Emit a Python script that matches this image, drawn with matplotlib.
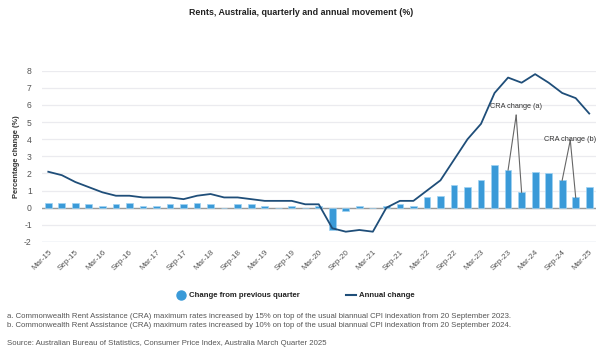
import matplotlib
matplotlib.use("Agg")
import matplotlib.pyplot as plt
import numpy as np
from matplotlib.lines import Line2D

plt.rcParams['font.family'] = ['Liberation Sans', 'DejaVu Sans']

quarters = ["Mar-15", "Jun-15", "Sep-15", "Dec-15", "Mar-16", "Jun-16", "Sep-16", "Dec-16",
            "Mar-17", "Jun-17", "Sep-17", "Dec-17", "Mar-18", "Jun-18", "Sep-18", "Dec-18",
            "Mar-19", "Jun-19", "Sep-19", "Dec-19", "Mar-20", "Jun-20", "Sep-20", "Dec-20",
            "Mar-21", "Jun-21", "Sep-21", "Dec-21", "Mar-22", "Jun-22", "Sep-22", "Dec-22",
            "Mar-23", "Jun-23", "Sep-23", "Dec-23", "Mar-24", "Jun-24", "Sep-24", "Dec-24",
            "Mar-25"]
quarterly_change = [0.3, 0.3, 0.3, 0.2, 0.1, 0.2, 0.3, 0.1,
                    0.1, 0.2, 0.2, 0.3, 0.2, 0.0, 0.2, 0.2,
                    0.1, 0.0, 0.1, 0.0, 0.1, -1.3, -0.2, 0.1,
                    0.0, 0.1, 0.2, 0.1, 0.6, 0.7, 1.3, 1.2,
                    1.6, 2.5, 2.2, 0.9, 2.1, 2.0, 1.6, 0.6,
                    1.2]
annual_change = [2.1, 1.9, 1.5, 1.2, 0.9, 0.7, 0.7, 0.6,
                 0.6, 0.6, 0.5, 0.7, 0.8, 0.6, 0.6, 0.5,
                 0.4, 0.4, 0.4, 0.2, 0.2, -1.2, -1.4, -1.3,
                 -1.4, 0.0, 0.4, 0.4, 1.0, 1.6, 2.8, 4.0,
                 4.9, 6.7, 7.6, 7.3, 7.8, 7.3, 6.7, 6.4,
                 5.5]
yticks = [-2, -1, 0, 1, 2, 3, 4, 5, 6, 7, 8]

title = "Rents, Australia, quarterly and annual movement (%)"
ylabel = "Percentage change (%)"
note_a = ("a. Commonwealth Rent Assistance (CRA) maximum rates increased by 15% on top of the usual "
          "biannual CPI indexation from 20 September 2023.")
note_b = ("b. Commonwealth Rent Assistance (CRA) maximum rates increased by 10% on top of the usual "
          "biannual CPI indexation from 20 September 2024.")
source = "Source: Australian Bureau of Statistics, Consumer Price Index, Australia March Quarter 2025"

bar_color = "#3a9ad8"
line_color = "#1f4e79"
text_gray = "#555555"

fig = plt.figure(figsize=(6.02, 3.59), dpi=100)
ax = fig.add_axes([0.069, 0.326, 0.921, 0.477])

x = np.arange(len(quarters))
ax.bar(x, quarterly_change, width=0.5, color=bar_color, edgecolor="#9fd3f3",
       linewidth=0.5, zorder=3, label="Change from previous quarter")
ax.axhline(0, color="#9a9a9a", lw=1.0, zorder=2)
ax.plot(x, annual_change, color=line_color, lw=1.3, zorder=4, label="Annual change")

ax.set_xlim(-0.5, len(quarters) - 0.5)
ax.set_ylim(-2, 8)
ax.set_yticks(yticks)
ax.set_yticklabels([str(v) for v in yticks], fontsize=6.2, color=text_gray)
ax.set_xticks(x[::2])
ax.set_xticklabels(quarters[::2], rotation=45, ha="right", rotation_mode="anchor",
                   fontsize=5.8, color=text_gray)
ax.tick_params(axis="y", length=0, pad=7)
ax.tick_params(axis="x", length=0, pad=5)
for s in ax.spines.values():
    s.set_visible(False)
ax.grid(axis="y", color="#ebebef", lw=0.9, zorder=0)
ax.axhline(-2, color="#d6e0ee", lw=1.0, zorder=1)
ax.set_axisbelow(True)

ax.set_ylabel(ylabel, fontsize=5.4, fontweight="bold", color="#333333", labelpad=3)

# Annotations
ia, ib = 34, 38
apex_a = (ia + 0.6, 5.4)
apex_b = (ib + 0.6, 3.95)
for i in (ia, ia + 1):
    ax.plot([apex_a[0], x[i]], [apex_a[1], quarterly_change[i]], color="#666666", lw=0.8, zorder=5)
for i in (ib, ib + 1):
    ax.plot([apex_b[0], x[i]], [apex_b[1], quarterly_change[i]], color="#666666", lw=0.8, zorder=5)
ax.text(apex_a[0], apex_a[1] + 0.5, "CRA change (a)", fontsize=5.3, color="#333333",
        ha="center", va="center", zorder=6)
ax.text(apex_b[0], apex_b[1] + 0.03, "CRA change (b)", fontsize=5.3, color="#333333",
        ha="center", va="center", zorder=6)

fig.text(0.5, 1 - 12.7 / 359, title, ha="center", va="center", fontsize=6.4,
         fontweight="bold", color="#222222")

handles = [Line2D([0], [0], marker="o", color="none", markerfacecolor=bar_color,
                  markeredgecolor=bar_color, markersize=6.5),
           Line2D([0], [0], color=line_color, lw=1.5)]
leg = fig.legend(handles, ["Change from previous quarter", "Annual change"],
                 loc="center", bbox_to_anchor=(295 / 602, 1 - 295.5 / 359), ncol=2, frameon=False,
                 fontsize=5.6, handlelength=1.3, handletextpad=0.4, columnspacing=5.9)
for t in leg.get_texts():
    t.set_color("#222222")
    t.set_fontweight("bold")

fig.text(7 / 602, 1 - 316.7 / 359, note_a, ha="left", va="center", fontsize=5.6, color=text_gray)
fig.text(7 / 602, 1 - 325.7 / 359, note_b, ha="left", va="center", fontsize=5.6, color=text_gray)
fig.text(7 / 602, 1 - 343.3 / 359, source, ha="left", va="center", fontsize=5.6, color=text_gray)

fig.savefig("out.png", dpi=100)
